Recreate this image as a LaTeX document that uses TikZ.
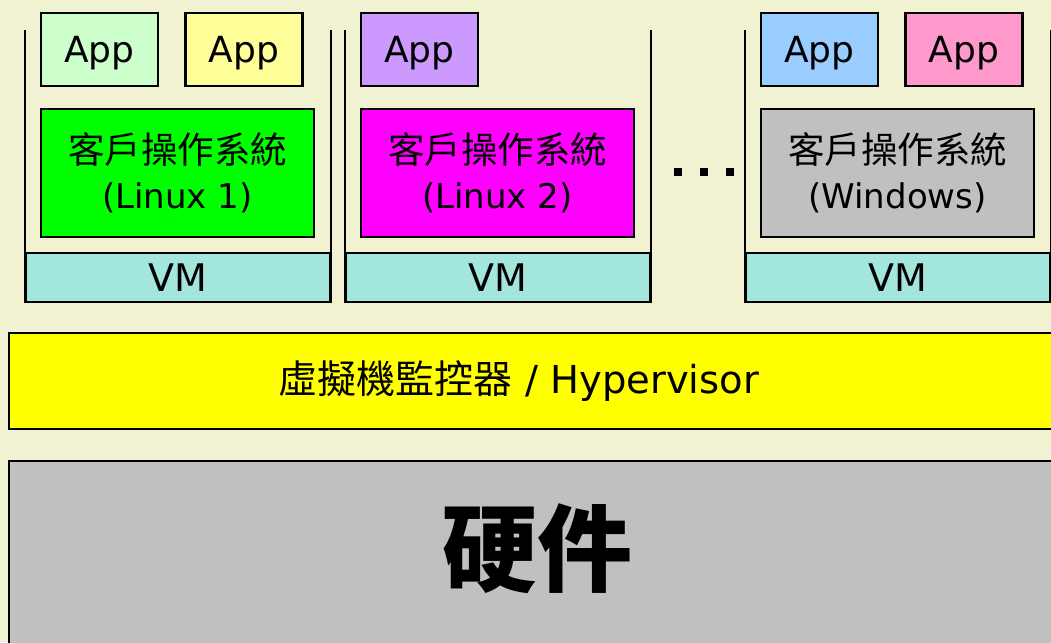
\documentclass[tikz,border=0pt]{standalone}
\usepackage{fontspec}
\setmainfont{DejaVu Sans}
\newfontfamily\cjk{Noto Sans CJK TC}
\usetikzlibrary{positioning}
\definecolor{bgcol}{RGB}{240,242,210}
\definecolor{vmcol}{RGB}{163,230,222}
\definecolor{grey}{RGB}{192,192,192}
\definecolor{osgreen}{RGB}{0,255,0}
\definecolor{osmagenta}{RGB}{255,0,255}
\definecolor{hvyellow}{RGB}{255,255,0}

\begin{document}
\begin{tikzpicture}[x=1pt,y=-1pt,line width=2.2pt,
    box/.style={draw,rectangle,inner sep=0pt},
    app/.style={box,minimum width=117pt,minimum height=73pt,text depth=0pt,font=\fontsize{36}{40}\selectfont},
    guest/.style={box,minimum width=273pt,minimum height=128pt,align=center,font=\fontsize{34}{45}\selectfont},
    vmbar/.style={box,fill=vmcol,minimum width=304pt,minimum height=49pt,font=\fontsize{38}{40}\selectfont},
    dot/.style={rectangle,fill=black,inner sep=0pt,minimum size=8pt}]
      \fill[bgcol] (0,0) rectangle (1051,642);
      \useasboundingbox (0,0) rectangle (1051,642);
      % virtual machines
      \foreach \dx/\i in {0/1,320/2,720/3} {
        \node[vmbar] (vm\i) at (178+\dx,277.5) {VM};
        \draw (vm\i.south west) -- (vm\i.south west |- 0,30);
        \draw (vm\i.south east) -- (vm\i.south east |- 0,30);
      }
      \node[app,fill={rgb,255:red,204;green,255;blue,204}] (app1) at (99.5,49.5) {App};
      \node[app,fill={rgb,255:red,255;green,255;blue,153}] (app2) at (244,49.5) {App};
      \node[app,fill={rgb,255:red,204;green,153;blue,255}] (app3) at (419.5,49.5) {App};
      \node[app,fill={rgb,255:red,153;green,204;blue,255}] (app4) at (819.5,49.5) {App};
      \node[app,fill={rgb,255:red,255;green,153;blue,204}] (app5) at (964,49.5) {App};
      \node[guest,fill=osgreen] (os1) at (177.5,173) {{\cjk\fontsize{36.5}{45}\selectfont 客戶操作系統}\\(Linux 1)};
      \node[guest,fill=osmagenta] (os2) at (497.5,173) {{\cjk\fontsize{36.5}{45}\selectfont 客戶操作系統}\\(Linux 2)};
      \node[guest,fill=grey] (os3) at (897.5,173) {{\cjk\fontsize{36.5}{45}\selectfont 客戶操作系統}\\(Windows)};
      \node[dot] (d1) at (678,172) {};
      \node[dot] (d2) at (704,172) {};
      \node[dot] (d3) at (730,172) {};
      % hypervisor and hardware
      \draw[fill=hvyellow] (9,333) rectangle (1070,429);
      \node (hv) at (519,381) {\fontsize{38.5}{40}\selectfont{\cjk\fontsize{39}{40}\selectfont 虛擬機監控器} / Hypervisor};
      \draw[fill=grey] (9,461) rectangle (1070,660);
      \node (hw) at (537,549) {\cjk\bfseries\fontsize{95}{100}\selectfont 硬件};
\end{tikzpicture}
\end{document}
